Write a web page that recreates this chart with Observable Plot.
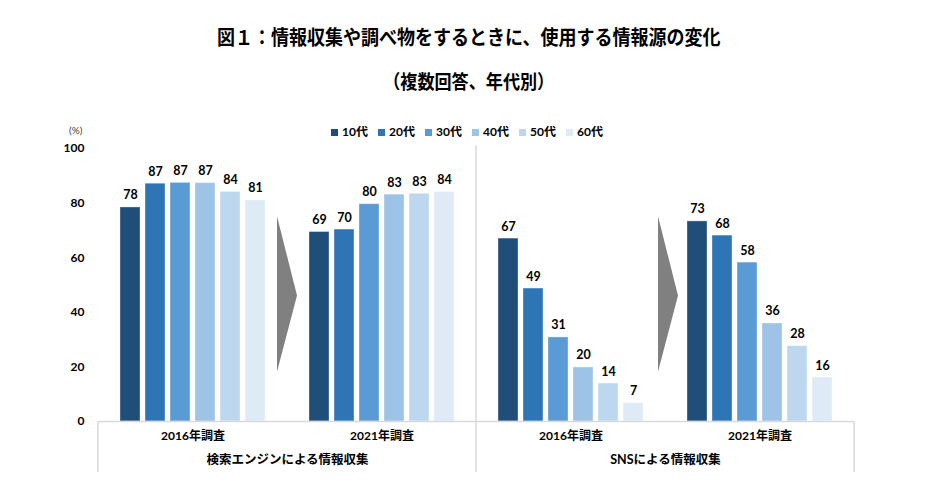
<!DOCTYPE html>
<html lang="ja">
<head>
<meta charset="utf-8">
<script src="https://cdn.jsdelivr.net/npm/d3@7"></script>
<script src="https://cdn.jsdelivr.net/npm/@observablehq/plot@0.6"></script>
<style>
  html, body { margin: 0; padding: 0; background: #fff; }
  body { width: 938px; height: 499px; overflow: hidden; font-family: Lato, "Noto Sans CJK JP", sans-serif; }
  #wrap { position: relative; width: 938px; height: 499px; }
  #title { position: absolute; left: 0; width: 938px; top: 23px; text-align: center; font-family: "Noto Sans CJK JP", sans-serif; font-weight: 700; font-size: 20px; line-height: 28px; color: #000; transform: scaleX(0.9); transform-origin: 467px 0; }
  #subtitle { position: absolute; left: 0; width: 938px; top: 67px; text-align: center; font-family: "Noto Sans CJK JP", sans-serif; font-weight: 700; font-size: 19px; line-height: 28px; color: #000; transform: scaleX(0.9); transform-origin: 466px 0; }
  #unit { position: absolute; left: 69px; top: 124px; font-size: 10px; color: #404040; font-family: Lato, sans-serif; z-index: 2; }
  #legend { position: absolute; left: 331px; top: 125px; display: flex; z-index: 2; }
  .item { width: 47px; display: flex; align-items: center; font-weight: 700; font-size: 12px; color: #000; line-height: 14px; }
  .sw { width: 7px; height: 7px; margin-right: 4px; flex: none; }
  #chart { position: absolute; left: 0; top: 120px; z-index: 1; }
</style>
</head>
<body>
<div id="wrap">
  <div id="title">図１：情報収集や調べ物をするときに、使用する情報源の変化</div>
  <div id="subtitle">（複数回答、年代別）</div>
  <div id="chart"></div>
  <div id="unit">(%)</div>
  <div id="legend"></div>
</div>
<script>
// ---- data ----
const ages = ["10代", "20代", "30代", "40代", "50代", "60代"];
const ageColors = ["#1F4E79", "#2E75B6", "#5B9BD5", "#9DC3E6", "#BDD7EE", "#DEEBF7"];
const groups = ["検索2016", "検索2021", "SNS2016", "SNS2021"];
const surveyLabels = ["2016年調査", "2021年調査", "2016年調査", "2021年調査"];
const topics = ["検索エンジンによる情報収集", "SNSによる情報収集"];
const search2016 = [78.4, 87.1, 87.4, 87.3, 84.1, 81.0];
const search2021 = [69.4, 70.3, 79.6, 83.1, 83.4, 84.1];
const sns2016 = [67.0, 48.7, 30.8, 19.8, 13.9, 6.7];
const sns2021 = [73.3, 68.1, 58.2, 35.9, 27.6, 16.1];
const yTicks = [0, 20, 40, 60, 80, 100];

const series = [search2016, search2021, sns2016, sns2021];
const table = groups.flatMap((g, gi) => ages.map((a, ai) => ({group: g, age: a, value: series[gi][ai]})));

// ---- legend ----
const legend = document.getElementById("legend");
ages.forEach((a, i) => {
  const it = document.createElement("div");
  it.className = "item";
  it.innerHTML = `<span class="sw" style="background:${ageColors[i]}"></span><span>${a}</span>`;
  legend.appendChild(it);
});

// ---- chart ----
const plot = Plot.plot({
  width: 938,
  height: 379,
  marginTop: 28,
  marginBottom: 78,
  marginLeft: 97,
  marginRight: 84,
  style: {fontFamily: "Lato, 'Noto Sans CJK JP', sans-serif", fontSize: "12px", fontWeight: "bold", color: "#000", background: "transparent"},
  fx: {domain: groups, padding: 0, axis: "bottom", tickSize: 0, tickPadding: 10, label: null,
       tickFormat: d => surveyLabels[groups.indexOf(d)]},
  x: {domain: ages, paddingInner: 0.2, paddingOuter: 0.85, axis: null},
  y: {domain: [0, 100], ticks: yTicks, tickSize: 0, tickPadding: 14, label: null},
  color: {domain: ages, range: ageColors},
  marks: [
    Plot.barY(table, {fx: "group", x: "age", y: "value", fill: "age", stroke: "#ffffff", strokeOpacity: 0.35, strokeWidth: 1}),
    Plot.ruleY([0], {stroke: "#d9d9d9", strokeWidth: 1.5}),
    Plot.text(table, {fx: "group", x: "age", y: "value", text: d => String(Math.round(d.value)), dy: -12, fontSize: 12.5, fontWeight: "bold", fill: "#000"}),
    Plot.text(topics, {fx: (d, i) => groups[2 * i + 1], text: d => d, frameAnchor: "bottom-left", textAnchor: "middle", dy: 42, fontSize: 12.5, fontWeight: "bold", fill: "#000"})
  ]
});
document.getElementById("chart").appendChild(plot);

// ---- frame lines and arrows, from Plot's scales ----
const fx = plot.scale("fx");
const ys = plot.scale("y");
const bw = fx.bandwidth;
const svg = d3.select(plot);
const y0 = ys.apply(0);
const g = svg.append("g");
const lineColor = "#d9d9d9";
const vlines = [
  {x: fx.apply(groups[0]), y1: y0, y2: y0 + 51},
  {x: fx.apply(groups[2]), y1: ys.apply(101), y2: y0 + 51},
  {x: fx.apply(groups[3]) + bw, y1: y0, y2: y0 + 51}
];
g.selectAll("line").data(vlines).join("line")
  .attr("x1", d => d.x).attr("x2", d => d.x)
  .attr("y1", d => d.y1).attr("y2", d => d.y2)
  .attr("stroke", lineColor).attr("stroke-width", 1.5);
const arrowCenters = [fx.apply(groups[1]), fx.apply(groups[3]) + 3];
g.selectAll("polygon").data(arrowCenters).join("polygon")
  .attr("points", cx => [[cx - 10, ys.apply(75)], [cx - 10, ys.apply(18)], [cx + 10, ys.apply(46)]].map(p => p.join(",")).join(" "))
  .attr("fill", "#808080");
</script>
</body>
</html>
